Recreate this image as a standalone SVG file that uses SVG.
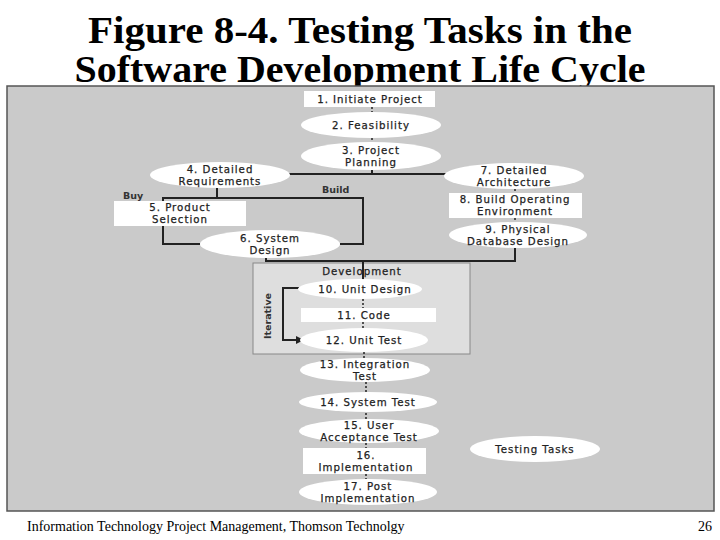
<svg xmlns="http://www.w3.org/2000/svg" width="720" height="540" viewBox="0 0 720 540">
<style>
.title{font-family:"Liberation Serif","Times New Roman",serif;font-weight:bold;font-size:37px;fill:#000;text-anchor:middle}
.foot{font-family:"Liberation Serif","Times New Roman",serif;font-size:14px;fill:#000}
.node{fill:#fff;stroke:none}
.lbl{font-family:"DejaVu Sans",Verdana,sans-serif;font-size:10.2px;fill:#222;stroke:#222;stroke-width:0.25;text-anchor:middle;letter-spacing:1px}
.sm{font-family:"DejaVu Sans",Verdana,sans-serif;font-size:9.5px;font-weight:bold;fill:#333}
.ln{stroke:#222;stroke-width:2;fill:none}
.tick{stroke:#222;stroke-width:1.5;stroke-dasharray:2 2;fill:none}
</style>
<defs>
<marker id="ah" markerWidth="8" markerHeight="8" refX="7" refY="4" orient="auto" markerUnits="userSpaceOnUse">
<path d="M0,0 L8,4 L0,8 Z" fill="#222"/>
</marker>
</defs>
<rect width="720" height="540" fill="#fff"/>
<text class="title" x="360" y="43" textLength="544" lengthAdjust="spacingAndGlyphs">Figure 8-4. Testing Tasks in the</text>
<text class="title" x="360" y="82" textLength="571" lengthAdjust="spacingAndGlyphs">Software Development Life Cycle</text>
<rect id="panel" x="7" y="86" width="707" height="425" fill="#cacaca" stroke="#555" stroke-width="1.5"/>
<g id="dev-box">
<rect x="253" y="263" width="217" height="91" fill="#dedede" stroke="#888" stroke-width="1"/>
<text class="lbl" x="362" y="275">Development</text>
</g>
<g id="connectors">
<line class="tick" x1="372" y1="107" x2="372" y2="112"/>
<line class="tick" x1="372" y1="138" x2="372" y2="143"/>
<line class="ln" x1="372" y1="170" x2="372" y2="174"/>
<line class="ln" x1="288" y1="174" x2="446" y2="174"/>
<line class="ln" x1="217" y1="188" x2="217" y2="198"/>
<polyline class="ln" points="200,244 163,244 163,198 363,198 363,244 340,244"/>
<line class="tick" x1="515" y1="189" x2="515" y2="193"/>
<line class="tick" x1="515" y1="218" x2="515" y2="222"/>
<polyline class="ln" points="515,248 515,261 266,261 266,257"/>
<line class="ln" x1="363" y1="261" x2="363" y2="280"/>
<line class="tick" x1="363" y1="299" x2="363" y2="308"/>
<line class="tick" x1="363" y1="322" x2="363" y2="328"/>
<polyline class="ln" points="299,288 283,288 283,340 303,340" marker-end="url(#ah)"/>
<line class="tick" x1="364" y1="352" x2="364" y2="358"/>
<line class="tick" x1="366" y1="382" x2="366" y2="395"/>
<line class="tick" x1="366" y1="413" x2="366" y2="419"/>
<line class="tick" x1="366" y1="443" x2="366" y2="448"/>
<line class="tick" x1="366" y1="474" x2="366" y2="479"/>
</g>
<text class="sm" x="123" y="199">Buy</text>
<text class="sm" x="322" y="193">Build</text>
<text class="sm" x="0" y="0" transform="translate(271,316) rotate(-90)" text-anchor="middle">Iterative</text>
<g id="n1"><rect class="node" x="304" y="91" width="131" height="16"/><text class="lbl" x="370" y="103">1. Initiate Project</text></g>
<g id="n2"><ellipse class="node" cx="371" cy="125" rx="70" ry="13"/><text class="lbl" x="371" y="128.7">2. Feasibility</text></g>
<g id="n3"><ellipse class="node" cx="371" cy="156" rx="70" ry="14"/><text class="lbl" x="371" y="153.8">3. Project</text><text class="lbl" x="371" y="165.6">Planning</text></g>
<g id="n4"><ellipse class="node" cx="220" cy="175" rx="70" ry="13"/><text class="lbl" x="220" y="172.8">4. Detailed</text><text class="lbl" x="220" y="184.6">Requirements</text></g>
<g id="n5"><rect class="node" x="114" y="201" width="132" height="25"/><text class="lbl" x="180" y="211.3">5. Product</text><text class="lbl" x="180" y="223.1">Selection</text></g>
<g id="n6"><ellipse class="node" cx="270" cy="244" rx="70" ry="14"/><text class="lbl" x="270" y="241.8">6. System</text><text class="lbl" x="270" y="253.6">Design</text></g>
<g id="n7"><ellipse class="node" cx="514" cy="176" rx="70" ry="13"/><text class="lbl" x="514" y="173.8">7. Detailed</text><text class="lbl" x="514" y="185.6">Architecture</text></g>
<g id="n8"><rect class="node" x="449" y="193" width="133" height="25"/><text class="lbl" x="515" y="203.3">8. Build Operating</text><text class="lbl" x="515" y="215.1">Environment</text></g>
<g id="n9"><ellipse class="node" cx="518" cy="235" rx="69" ry="13"/><text class="lbl" x="518" y="232.8">9. Physical</text><text class="lbl" x="518" y="244.6">Database Design</text></g>
<g id="n10"><ellipse class="node" cx="360" cy="289" rx="62" ry="10"/><text class="lbl" x="365" y="292.7">10. Unit Design</text></g>
<g id="n11"><rect class="node" x="301" y="308" width="135" height="14"/><text class="lbl" x="364" y="318.7">11. Code</text></g>
<g id="n12"><ellipse class="node" cx="364" cy="340" rx="64" ry="12"/><text class="lbl" x="364" y="343.7">12. Unit Test</text></g>
<g id="n13"><ellipse class="node" cx="365" cy="370" rx="65" ry="12"/><text class="lbl" x="365" y="367.8">13. Integration</text><text class="lbl" x="365" y="379.6">Test</text></g>
<g id="n14"><ellipse class="node" cx="368" cy="402" rx="69" ry="10"/><text class="lbl" x="368" y="405.7">14. System Test</text></g>
<g id="n15"><ellipse class="node" cx="369" cy="431" rx="70" ry="12"/><text class="lbl" x="369" y="428.8">15. User</text><text class="lbl" x="369" y="440.6">Acceptance Test</text></g>
<g id="n16"><rect class="node" x="303" y="448" width="123" height="26"/><text class="lbl" x="366" y="458.8">16.</text><text class="lbl" x="366" y="470.6">Implementation</text></g>
<g id="n17"><ellipse class="node" cx="368" cy="492" rx="69" ry="13"/><text class="lbl" x="368" y="489.8">17. Post</text><text class="lbl" x="368" y="501.6">Implementation</text></g>
<g id="legend"><ellipse class="node" cx="535" cy="449" rx="65" ry="13"/><text class="lbl" x="535" y="452.7">Testing Tasks</text></g>
<text class="foot" x="27" y="531">Information Technology Project Management, Thomson Technolgy</text>
<text class="foot" x="712" y="531" text-anchor="end">26</text>
</svg>
